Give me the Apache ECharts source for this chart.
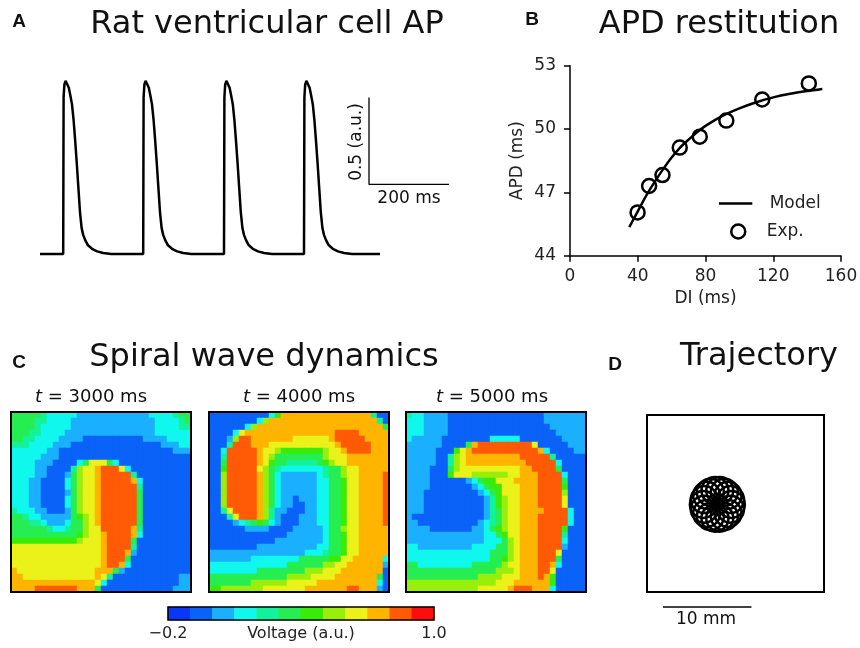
<!DOCTYPE html>
<html>
<head>
<meta charset="utf-8">
<script src="https://cdn.jsdelivr.net/npm/echarts@6/dist/echarts.min.js"></script>
<style>html,body{margin:0;padding:0;background:#fff}#c{width:860px;height:648px}</style>
</head>
<body>
<div id="c"></div>
<script>
// ---------- Panel A: action potential trace (time in ms, voltage in a.u.) ----------
const apTime = [0,
  58,59,61,64,68,72,76,80,84,88,92,96,100,104,108,113,120,130,143,158,178,
  258,259,261,264,268,272,276,280,284,288,292,296,300,304,308,313,320,330,343,358,378,
  460,461,463,466,470,474,478,482,486,490,494,498,502,506,510,515,522,532,545,560,580,
  660,661,663,666,670,674,678,682,686,690,694,698,702,706,710,715,722,732,745,760,780,
  850];
const apVolt = [0,
  0,0.9,0.975,0.995,0.985,0.955,0.91,0.86,0.77,0.65,0.52,0.38,0.24,0.15,0.11,0.08,0.05,0.03,0.015,0.006,0,
  0,0.9,0.975,0.995,0.985,0.955,0.91,0.86,0.77,0.65,0.52,0.38,0.24,0.15,0.11,0.08,0.05,0.03,0.015,0.006,0,
  0,0.9,0.975,0.995,0.985,0.955,0.91,0.86,0.77,0.65,0.52,0.38,0.24,0.15,0.11,0.08,0.05,0.03,0.015,0.006,0,
  0,0.9,0.975,0.995,0.985,0.955,0.91,0.86,0.77,0.65,0.52,0.38,0.24,0.15,0.11,0.08,0.05,0.03,0.015,0.006,0,
  0];
const apScaleBar = [[822.5,0.9],[822.5,0.4],[1022.5,0.4]]; // 0.5 a.u. x 200 ms

// ---------- Panel B: APD restitution ----------
const modelDI  = [35,40,45,50,55,60,65,70,75,80,90,100,110,120,130,140,149];
const modelAPD = [45.35,46.1,46.85,47.5,48.1,48.65,49.12,49.5,49.85,50.15,50.62,50.98,51.27,51.5,51.67,51.8,51.9];
const expDI  = [39.9,46.7,54.6,64.8,76.6,92.3,113.5,141];
const expAPD = [46.05,47.3,47.82,49.12,49.64,50.4,51.4,52.16];

// ---------- Panel C: spiral wave snapshots (voltage level per cell, hex 0..b = bins of 0.1 from -0.2) ----------
const wave3000 = [
 "555554333332222222222223333455","555544333322222222222222333345","555543333322222222222222333344",
 "555443333222222222222222333333","554433332222111111111122223333","444333322211111111111111122233",
 "333333221111111111111111111222","333332221111111111111111111111","333322211113588853111111111111",
 "333322111147889aaa831111111111","333322111257889aaaaa4111111111","333221111357889aaaaa9311111111",
 "333221111357889aaaaaa411111111","333221111257889aaaaaa511111111","333221111357889aaaaaa511111111",
 "333221111357889aaaaaa511111111","433322111257889aaaaaa511111111","554332222256789aaaaaa511111111",
 "555443222355789aaaaaa511111111","555555433455788aaaaa9411111111","5555555555567889aaaa9311111111",
 "6666666666678889aaaa5111111111","8888888888888889aaaa4111111111","8888888888888889aaa92111111111",
 "8888888888888889aaa51111111111","8888888888888889aa931111111111","988888888888889995211111111111",
 "998888888888889841111111111122","999999999999998311111111111122","9999aaaaaaa9995111111111111222"];
const wave4000 = [
 "111111111136999999999999999411","111111113799999999999999999941","111111379999999999999999999995",
 "111138999999999999999aaaa99999","11127aa99999998888889aaaaa9999","1114aaa999888888888889aaaaa999",
 "113aaaaa988766666667889aaaa999","114aaaaa9875555555578889999999","115aaaaa9865544444567889999999",
 "116aaaaa8754333333345578899999","117aaaaa975322222234557889999a","117aaaaa975322222233556889999a",
 "117aaaaa975322222233556889999a","117aaaaa975322222233556889999a","117aaaaa975322122233556889999a",
 "117aaaaa975322112233556889999a","1148aaaa974221112233556889999a","11148aaa974211122233556889999a",
 "11112345653211122233556889999a","111111222211112222235578899999","111111111111122222235568899999",
 "111111111112222222235568899999","111111112222222222335568899999","222222222222222233345568899999",
 "222222233333333555556688999993","333333333333355555577889999992","333333335555555577788899999991",
 "555555555555577778888999999951","555555577777788888999999999931","66777777788888889999999aa99921"];
const wave5000 = [
 "433222211111111111111112222222","333222211111111111111112222222","333222211111111111111111222222",
 "333222211111111111111111122222","322222111111113333311111112222","222222111159aaaaaaaaa811111222",
 "22222111689aaaaaaaaaaa93111122","2222211478999999999aaaaa411111","22222114789999999999aaaaa31111",
 "222211157888888888899aaaa51111","2222111688877777788999aaaa3111","2222111111235668889999aaaa5111",
 "2222111111123566888999aaaa6111","2221111111112356888999aaaa7111","2221111111111246788999aaaa8111",
 "2221111111111246788999aaaa8111","22211111111112457889999aaaa311","2111111111111245788999aaaaa311",
 "2211111111112345788999aaaaa311","2222111111122356788999aaaa6111","2222222222222335688999aaaa4111",
 "2222222222222333578999aaaa3111","3322222222233335578999aaaa2111","3333333333333355578999aaa81111",
 "3333333333333355678999aaa51111","5533333333355555788999aa931111","5555555555555557778999aa811111",
 "5555555555557777888999a9611111","777777777777777888999999611111","777777777777888889aaa999311111"];
const waveTimes = ["3000","4000","5000"];

// ---------- Colour bar ----------
const colorBins = [-0.15,-0.05,0.05,0.15,0.25,0.35,0.45,0.55,0.65,0.75,0.85,0.95];
const binColors = ["#0a36f5","#0a62f8","#1ab0ff","#10f8ee","#12f29a","#26ee52","#38ec08",
                   "#9aee0c","#eaf21a","#ffb400","#ff5a06","#ff0c0c"];
const cbTicks = ["\u22120.2","1.0"];

// ---------- Panel D: tip trajectory loop centres (mm) ----------
const loopX = [9.53,9.43,9.16,8.74,8.22,7.68,7.16,6.74,6.47,6.37,6.47,6.74,7.16,7.68,8.22,8.74,9.16,9.43];
const loopY = [9.9,10.44,10.92,11.27,11.46,11.46,11.27,10.92,10.44,9.9,9.36,8.88,8.53,8.34,8.34,8.53,8.88,9.36];
const mmScaleBar = [[1.8,-1.7],[11.8,-1.7]]; // 10 mm

const FONT = "DejaVu Sans";
const N = 30;
const chart = echarts.init(document.getElementById('c'), null, {renderer:'canvas'});

function waveData(rows){
  const d=[];
  rows.forEach((row,r)=>{ for(let c=0;c<Math.min(N,row.length);c++){ d.push([c,r,-0.15+0.1*parseInt(row[c],16)]); } });
  return d;
}
const catsN = Array.from({length:N},(_,i)=>i);
const hmGrids = [[11,412,180,180],[209,412,180,180],[406,412,180,180]];
const pieces = binColors.map((col,k)=>({gte:-0.2+0.1*k-1e-9, lt:-0.1+0.1*k-1e-9, color:col}));
pieces[pieces.length-1].lt = 2;

const grids = [
  {left:40, top:62.6, width:420, height:208.8},
  {left:570, top:65.7, width:271, height:190},
  ...hmGrids.map(g=>({left:g[0],top:g[1],width:g[2],height:g[3]})),
  {left:168, top:607, width:266, height:13},
  {left:647, top:415, width:177, height:177}
].map(g=>Object.assign(g,{outerBoundsMode:'none', containLabel:false}));

const xAxes = [
  {gridIndex:0, type:'value', min:0, max:1050, show:false},
  {gridIndex:1, type:'value', min:0, max:160, interval:40,
   axisLine:{lineStyle:{color:'#000', width:1.5}}, axisTick:{length:6, lineStyle:{color:'#000',width:1.5}},
   axisLabel:{fontFamily:FONT, fontSize:17, color:'#222', margin:12},
   splitLine:{show:false}, name:'DI (ms)', nameLocation:'middle', nameGap:34, nameMoveOverlap:false,
   nameTextStyle:{fontFamily:FONT, fontSize:17, color:'#222'}},
  ...hmGrids.map((g,i)=>({gridIndex:2+i, type:'category', data:catsN, show:false})),
  {gridIndex:5, type:'category', data:colorBins.map((v,i)=>i), show:false, position:'top'},
  {gridIndex:5, type:'value', min:-0.2, max:1.0, interval:1.2, position:'bottom',
   axisLine:{show:false}, axisTick:{show:false}, splitLine:{show:false},
   axisLabel:{fontFamily:FONT, fontSize:16, color:'#222', margin:6,
     formatter:v=> v<0.4 ? cbTicks[0] : cbTicks[1]},
   name:'Voltage (a.u.)', nameLocation:'middle', nameGap:6, nameMoveOverlap:false,
   nameTextStyle:{fontFamily:FONT, fontSize:16, color:'#222', verticalAlign:'top'}},
  {gridIndex:6, type:'value', min:0, max:20, show:false}
];
const yAxes = [
  {gridIndex:0, type:'value', min:-0.1, max:1.1, show:false},
  {gridIndex:1, type:'value', min:44, max:53, interval:3,
   axisLine:{show:true, lineStyle:{color:'#000', width:1.5}}, axisTick:{show:true, length:6, lineStyle:{color:'#000',width:1.5}},
   axisLabel:{fontFamily:FONT, fontSize:17, color:'#222', margin:14},
   splitLine:{show:false}, name:'APD (ms)', nameLocation:'middle', nameGap:44, nameMoveOverlap:false,
   nameTextStyle:{fontFamily:FONT, fontSize:17, color:'#222'}},
  ...hmGrids.map((g,i)=>({gridIndex:2+i, type:'category', data:catsN, inverse:true, show:false})),
  {gridIndex:5, type:'category', data:[0], show:false},
  {gridIndex:6, type:'value', min:0, max:20, show:false}
];

const series = [
  {type:'line', xAxisIndex:0, yAxisIndex:0, data:apTime.map((t,i)=>[t,apVolt[i]]),
   showSymbol:false, lineStyle:{color:'#000', width:2.5}, silent:true},
  {type:'line', xAxisIndex:0, yAxisIndex:0, data:apScaleBar, showSymbol:false,
   lineStyle:{color:'#000', width:1.3}, silent:true},
  {name:'Model', type:'line', xAxisIndex:1, yAxisIndex:1, data:modelDI.map((x,i)=>[x,modelAPD[i]]),
   showSymbol:false, smooth:0.3, lineStyle:{color:'#000', width:2.5}, itemStyle:{color:'#000'}, silent:true},
  {name:'Exp.', type:'scatter', xAxisIndex:1, yAxisIndex:1, data:expDI.map((x,i)=>[x,expAPD[i]]),
   symbol:'circle', symbolSize:14, itemStyle:{color:'rgba(255,255,255,0)', borderColor:'#000', borderWidth:2.5, opacity:1}, z:5, silent:true},
  ...[wave3000,wave4000,wave5000].map((rows,i)=>({type:'heatmap', xAxisIndex:2+i, yAxisIndex:2+i,
     data:waveData(rows), progressive:0, silent:true, itemStyle:{borderWidth:0}})),
  {type:'heatmap', xAxisIndex:5, yAxisIndex:5, data:colorBins.map((v,i)=>[i,0,v]), progressive:0, silent:true},
  {type:'scatter', xAxisIndex:7, yAxisIndex:6, data:loopX.map((x,i)=>[x,loopY[i]]),
   symbol:'circle', symbolSize:27, itemStyle:{color:'rgba(0,0,0,0)', borderColor:'#000', borderWidth:2.5, opacity:1}, silent:true},
  {type:'line', xAxisIndex:7, yAxisIndex:6, data:mmScaleBar, showSymbol:false, clip:false,
   lineStyle:{color:'#000', width:1.5}, silent:true}
];

function txt(x,y,text,font,extra){
  return Object.assign({type:'text', x:x, y:y, silent:true, z:100,
    style:Object.assign({text:text, font:font, fill:'#111', align:'center', verticalAlign:'middle',
      textAlign:'center', textVerticalAlign:'middle'}, extra||{})});
}
const titleFont = "32px " + FONT;
const letterFont = "bold 19px 'Liberation Sans'";
const graphics = [
  txt(19,22,"A",letterFont), txt(267,25,"Rat ventricular cell AP",titleFont),
  txt(532,20,"B",letterFont), txt(719,25,"APD restitution",titleFont),
  txt(19,363,"C",letterFont), txt(264,358,"Spiral wave dynamics",titleFont),
  txt(615,365,"D",letterFont), txt(759,357,"Trajectory",titleFont),
  txt(409,199,"200 ms","17px "+FONT),
  Object.assign(txt(357,142,"0.5 (a.u.)","17px "+FONT),{rotation:Math.PI/2}),
  txt(706,620,"10 mm","17px "+FONT),
  ...[91,299,492].map((cx,i)=>({type:'text', x:cx, y:397, silent:true, z:100,
     style:{text:'{i|t} = '+waveTimes[i]+' ms', font:"18px "+FONT, fill:'#111', align:'center', verticalAlign:'middle',
       rich:{i:{font:"italic 18px "+FONT, fill:'#111'}}}})),
  ...hmGrids.map(g=>({type:'rect', shape:{x:g[0],y:g[1],width:g[2],height:g[3]}, silent:true, z:100,
     style:{fill:null, stroke:'#000', lineWidth:2}})),
  {type:'rect', shape:{x:168,y:607,width:266,height:13}, silent:true, z:100, style:{fill:null, stroke:'#000', lineWidth:1.5}},
  {type:'rect', shape:{x:647,y:415,width:177,height:177}, silent:true, z:100, style:{fill:null, stroke:'#000', lineWidth:2}}
];

chart.setOption({
  animation:false,
  backgroundColor:'#fff',
  grid:grids, xAxis:xAxes, yAxis:yAxes, series:series,
  visualMap:{type:'piecewise', show:false, dimension:2, seriesIndex:[4,5,6,7], pieces:pieces},
  legend:[
    {data:[{name:'Model', icon:'path://M0,0H40V3H0Z'}], left:719, top:195, padding:0, itemWidth:38, itemHeight:2.5,
     selectedMode:false, textStyle:{fontFamily:FONT, fontSize:17, color:'#222', padding:[0,0,0,10]}},
    {data:[{name:'Exp.', icon:'circle', itemStyle:{color:'#fff', borderColor:'#000', borderWidth:2.5, opacity:1}}],
     left:730, top:223, padding:0, itemWidth:27, itemHeight:14,
     selectedMode:false, textStyle:{fontFamily:FONT, fontSize:17, color:'#222', padding:[0,0,0,10]}}
  ],
  graphic:graphics
});
</script>
</body>
</html>
